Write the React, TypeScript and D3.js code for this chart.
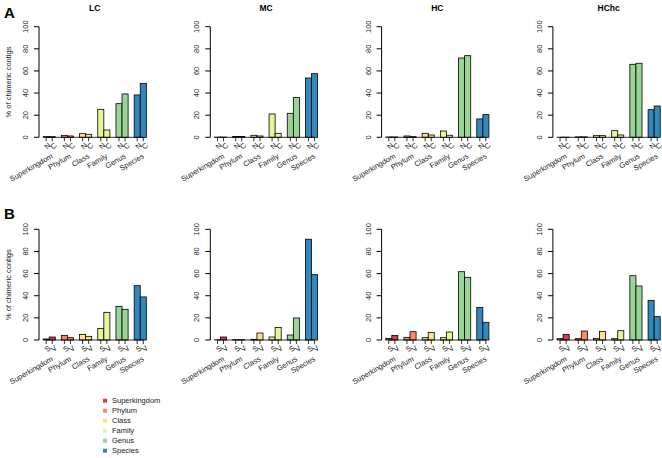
import React from "react";
import * as d3 from "d3";

const categories = ["Superkingdom", "Phylum", "Class", "Family", "Genus", "Species"];
const samples = ["LC", "MC", "HC", "HChc"];
const colors = ["#D53E4F", "#FC8D59", "#FEE08B", "#E6F598", "#99D594", "#3288BD"];
const yTicks = [0, 20, 40, 60, 80, 100];
const barLabelsA = ["N", "C"];
const barLabelsB = ["S", "V"];

// Panel A (N / C)
const aLC_N = [0.6, 1.8, 3.3, 25.3, 30.4, 38.3];
const aLC_C = [0.6, 1.2, 2.7, 6.6, 39.2, 48.8];
const aMC_N = [0.2, 0.7, 1.8, 21.1, 21.7, 53.6];
const aMC_C = [0.2, 0.7, 1.2, 3.6, 36.1, 57.5];
const aHC_N = [0.3, 1.2, 3.6, 5.7, 71.7, 16.6];
const aHC_C = [0.3, 0.6, 2.1, 1.8, 73.8, 20.5];
const aHChc_N = [0.1, 0.4, 1.5, 6.0, 66.0, 25.0];
const aHChc_C = [0.1, 0.4, 1.5, 2.1, 66.9, 28.3];

// Panel B (S / V)
const bLC_S = [0.9, 4.2, 5.1, 10.5, 30.4, 49.1];
const bLC_V = [2.7, 2.1, 3.3, 25.0, 27.7, 38.9];
const bMC_S = [0.2, 0.3, 0.6, 2.7, 4.5, 91.0];
const bMC_V = [2.7, 0.3, 6.3, 11.4, 19.9, 59.0];
const bHC_S = [1.5, 2.4, 2.1, 2.1, 61.7, 29.5];
const bHC_V = [4.2, 7.5, 6.9, 7.2, 56.6, 16.0];
const bHChc_S = [1.2, 1.2, 1.5, 1.2, 58.1, 35.8];
const bHChc_V = [5.1, 8.1, 7.8, 8.4, 48.8, 21.1];

const panelA = [[aLC_N, aLC_C], [aMC_N, aMC_C], [aHC_N, aHC_C], [aHChc_N, aHChc_C]];
const panelB = [[bLC_S, bLC_V], [bMC_S, bMC_V], [bHC_S, bHC_V], [bHChc_S, bHChc_V]];

const FONT = "'Liberation Sans', Arial, Helvetica, sans-serif";

function Panel({ axisX, y0, y100, series, labels, title, showYLabel }: any) {
  const bw = 6.07;
  const x = d3.scaleLinear().domain([1 - 0.68, 18 + 0.68]).range([axisX, axisX + 18.36 * bw]);
  const y = d3.scaleLinear().domain([0, 100]).range([y0, y100]);
  const bars: any[] = [];
  const ticks: any[] = [];
  categories.forEach((cat, g) => {
    [0, 1].forEach((j) => {
      const l = 3 * g + 1 + j;
      const v = series[j][g];
      bars.push(
        <rect key={`b${g}-${j}`} x={x(l)} y={y(v)} width={x(l + 1) - x(l)} height={y(0) - y(v)}
          fill={colors[g]} stroke="#000" strokeWidth={0.8} />
      );
      const cx = x(l + 0.5);
      ticks.push(<line key={`t${g}-${j}`} x1={cx} x2={cx} y1={y0} y2={y0 + 4} stroke="#000" strokeWidth={0.8} />);
      ticks.push(
        <text key={`l${g}-${j}`} x={cx + 1.5} y={y0 + 5} fontSize={7.5} textAnchor="end" dy="0.7em"
          transform={`rotate(-45 ${cx + 1.5} ${y0 + 5})`} fill="#222">{labels[j]}</text>
      );
    });
    const gc = x(3 * g + 2);
    ticks.push(
      <text key={`c${g}`} x={gc + 3} y={y0 + 18} fontSize={7.5} textAnchor="end" dy="0.35em"
        transform={`rotate(-30 ${gc + 3} ${y0 + 18})`} fill="#222">{cat}</text>
    );
  });
  const firstC = x(1.5), lastC = x(17.5);
  const plotRight = x(18.68);
  return (
    <g fontFamily={FONT}>
      <text x={(axisX + plotRight) / 2} y={y100 - 16} textAnchor="middle" fontWeight="bold" fontSize={8.5}>{title}</text>
      {bars}
      <line x1={axisX} x2={axisX} y1={y(0)} y2={y(100)} stroke="#000" strokeWidth={1} />
      {yTicks.map((t) => (
        <g key={t}>
          <line x1={axisX - 5} x2={axisX} y1={y(t)} y2={y(t)} stroke="#000" strokeWidth={1} />
          <text x={axisX - 11} y={y(t)} fontSize={7.5} textAnchor="middle" fill="#222"
            transform={`rotate(-90 ${axisX - 11} ${y(t)})`}>{t}</text>
        </g>
      ))}
      <line x1={firstC} x2={lastC} y1={y0} y2={y0} stroke="#000" strokeWidth={0.8} />
      {ticks}
      {showYLabel && (
        <text x={11} y={(y0 + y100) / 2} fontSize={7.5} textAnchor="middle" fill="#222"
          transform={`rotate(-90 11 ${(y0 + y100) / 2})`}>% of chimeric contigs</text>
      )}
    </g>
  );
}

export default function App() {
  const axisXs = samples.map((_, i) => 39 + 171.3 * i);
  return (
    <svg width={662} height={458} style={{ position: "absolute", left: 0, top: 0, background: "#fff" }}>
      <rect width={662} height={458} fill="#fff" />
      <text x={4} y={18} fontFamily={FONT} fontWeight="bold" fontSize={15}>A</text>
      <text x={4} y={219} fontFamily={FONT} fontWeight="bold" fontSize={15}>B</text>
      {samples.map((s, i) => (
        <Panel key={`A${s}`} axisX={axisXs[i]} y0={137.3} y100={26.7} series={panelA[i]} labels={barLabelsA}
          title={s} showYLabel={i === 0} />
      ))}
      {samples.map((s, i) => (
        <Panel key={`B${s}`} axisX={axisXs[i]} y0={340} y100={229.3} series={panelB[i]} labels={barLabelsB}
          title={""} showYLabel={i === 0} />
      ))}
      <g fontFamily={FONT}>
        {categories.map((c, i) => (
          <g key={c}>
            <rect x={103} y={398.7 + i * 10} width={4} height={4} fill={colors[i]} />
            <text x={112} y={400.7 + i * 10} dy="0.35em" fontSize={7.5} fill="#222">{c}</text>
          </g>
        ))}
      </g>
    </svg>
  );
}
